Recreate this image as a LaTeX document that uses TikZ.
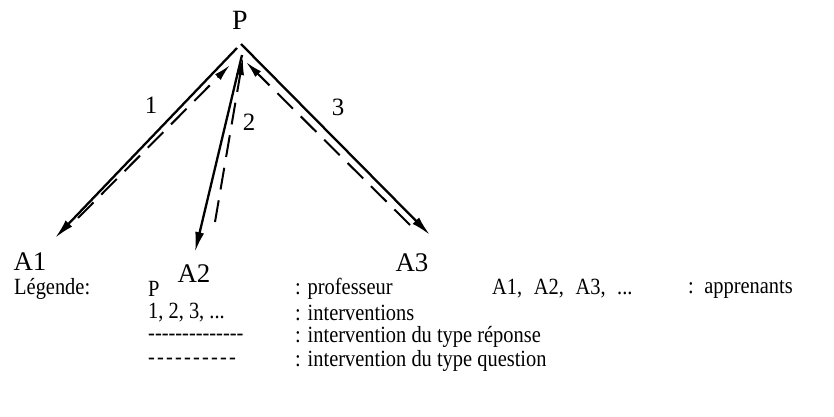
\documentclass[tikz,border=0pt]{standalone}
\usepackage{fontspec}
\setmainfont{Liberation Serif}
\newfontfamily\legfont{Liberation Serif}[FakeStretch=0.88]
\usetikzlibrary{arrows.meta}

\begin{document}
\begin{tikzpicture}[x=1bp,y=1bp,
  reponse/.style={line width=2.3bp,-{Latex[length=20bp,width=9bp]}},
  question/.style={line width=2bp,dash pattern=on 22bp off 11bp,-{Latex[length=17bp,width=8bp]}},
  lbl/.style={inner sep=0pt,font=\fontsize{27}{31}\selectfont},
  leg/.style={anchor=west,inner sep=0pt,font=\legfont\fontsize{23.3}{27}\selectfont}]
\path[use as bounding box] (0,0) rectangle (834,416);
\node[lbl,font=\fontsize{28}{32}\selectfont] (P) at (240,396) {P};
\node[lbl,font=\fontsize{25}{29}\selectfont] (n1) at (151,311) {1};
\node[lbl,font=\fontsize{25}{29}\selectfont] (n2) at (249,294) {2};
\node[lbl,font=\fontsize{25}{29}\selectfont] (n3) at (338,309) {3};
\node[lbl] (A1) at (30,154) {A1};
\node[lbl] (A2) at (194,142) {A2};
\node[lbl] (A3) at (412,153) {A3};
% ends of the interventions
\coordinate (p1) at (237,368);\coordinate (a1) at (55,178);
\coordinate (p2) at (242,361);\coordinate (a2) at (195,164);
\coordinate (p3) at (241,372);\coordinate (a3) at (430,181);
\coordinate (q1) at (230,351);\coordinate (b1) at (78,198);
\coordinate (q2) at (243,358);\coordinate (b2) at (215,194);
\coordinate (q3) at (246,354);\coordinate (b3) at (410,191);
\draw[reponse] (p1)--(a1);\draw[question] (b1)--(q1);
\draw[reponse] (p2)--(a2);\draw[question] (b2)--(q2);
\draw[reponse] (p3)--(a3);\draw[question] (b3)--(q3);
% legende
\node[leg] (lg) at (14,127) {Légende:};
\node[leg] (lgP) at (148,127) {P};
\node[leg] (lgPt) at (295,127) {: professeur};
\node[leg] (lgA) at (492,127) {A1,\hspace{0.5em}A2,\hspace{0.5em}A3,\hspace{0.5em}...};
\node[leg] (lgAt) at (688,127) {:\hspace{0.45em}apprenants};
\node[leg] (lgN) at (148,103) {1, 2, 3, ...};
\node[leg] (lgNt) at (295,103) {: interventions};
\node[leg] (lgR) at (148,79) {-{}-{}-{}-{}-{}-{}-{}-{}-{}-{}-{}-{}-{}-};
\node[leg] (lgRt) at (295,79) {: intervention du type réponse};
\node[leg] (lgQ) at (148,55) {-\hspace{2.2bp}-\hspace{2.2bp}-\hspace{2.2bp}-\hspace{2.2bp}-\hspace{2.2bp}-\hspace{2.2bp}-\hspace{2.2bp}-\hspace{2.2bp}-\hspace{2.2bp}-};
\node[leg] (lgQt) at (295,55) {: intervention du type question};
\end{tikzpicture}
\end{document}
